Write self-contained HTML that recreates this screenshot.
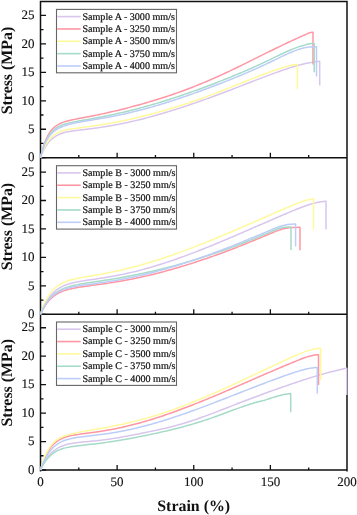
<!DOCTYPE html><html><head><meta charset="utf-8"><style>html,body{margin:0;padding:0;background:#fff;}svg{display:block;will-change:transform;}text{font-family:"Liberation Serif",serif;fill:#111;text-rendering:geometricPrecision;}.t{font-size:13px;stroke:#111;stroke-width:0.15px;}.lg{font-size:10.1px;stroke:#111;stroke-width:0.2px;}.ax{font-size:15.9px;font-weight:bold;}</style></head><body>
<svg width="357" height="515" viewBox="0 0 357 515">
<rect width="357" height="515" fill="#fff"/>
<path d="M40.5 1.5V470.7 M347 1.5V470.7 M40.5 1.5H347 M40.5 157.7H347 M40.5 314.3H347 M40.5 470H347" stroke="#111" stroke-width="1.5" fill="none" stroke-linecap="square"/>
<text class="t" x="34.6" y="161.4" text-anchor="end">0</text>
<text class="t" x="34.6" y="132.95" text-anchor="end">5</text>
<text class="t" x="34.6" y="104.5" text-anchor="end">10</text>
<text class="t" x="34.6" y="76.05" text-anchor="end">15</text>
<text class="t" x="34.6" y="47.6" text-anchor="end">20</text>
<text class="t" x="34.6" y="19.15" text-anchor="end">25</text>
<path d="M40.5 157.7H46 M40.5 143.47H43.5 M40.5 129.25H46 M40.5 115.02H43.5 M40.5 100.8H46 M40.5 86.57H43.5 M40.5 72.35H46 M40.5 58.12H43.5 M40.5 43.9H46 M40.5 29.67H43.5 M40.5 15.45H46 M78.81 157.7V155.1 M117.12 157.7V152.7 M155.44 157.7V155.1 M193.75 157.7V152.7 M232.06 157.7V155.1 M270.38 157.7V152.7 M308.69 157.7V155.1" stroke="#111" stroke-width="1.3" fill="none"/>
<rect x="56.5" y="9.4" width="120" height="63.4" fill="#fff" stroke="#666" stroke-width="1.1"/>
<path d="M57.2 16.6H80.7" stroke="#d8c6ee" stroke-width="1.6"/>
<text class="lg" x="82.4" y="19.5">Sample A - 3000 mm/s</text>
<path d="M57.2 28.95H80.7" stroke="#ff96a3" stroke-width="1.6"/>
<text class="lg" x="82.4" y="31.85">Sample A - 3250 mm/s</text>
<path d="M57.2 41.3H80.7" stroke="#fff99c" stroke-width="1.6"/>
<text class="lg" x="82.4" y="44.2">Sample A - 3500 mm/s</text>
<path d="M57.2 53.65H80.7" stroke="#a6dbc9" stroke-width="1.6"/>
<text class="lg" x="82.4" y="56.55">Sample A - 3750 mm/s</text>
<path d="M57.2 66H80.7" stroke="#bccdf7" stroke-width="1.6"/>
<text class="lg" x="82.4" y="68.9">Sample A - 4000 mm/s</text>
<path d="M40.50 157.70 L40.75 157.02 L41.00 156.35 L41.25 155.70 L41.50 155.06 L41.75 154.44 L42.00 153.84 L42.25 153.25 L42.50 152.68 L42.75 152.12 L43.00 151.58 L43.25 151.05 L43.50 150.53 L43.75 150.03 L44.00 149.53 L44.25 149.05 L44.50 148.59 L44.75 148.13 L45.00 147.69 L45.25 147.26 L45.50 146.83 L45.75 146.42 L46.00 146.02 L46.25 145.63 L46.50 145.25 L47.25 144.16 L48.00 143.15 L48.75 142.21 L49.50 141.34 L50.25 140.54 L51.00 139.79 L51.75 139.10 L52.50 138.46 L53.25 137.86 L54.00 137.31 L54.75 136.79 L55.50 136.31 L56.25 135.87 L57.00 135.46 L57.75 135.07 L58.50 134.72 L59.25 134.38 L60.00 134.07 L60.75 133.79 L61.50 133.52 L62.25 133.26 L63.00 133.03 L63.75 132.81 L64.50 132.60 L66.50 132.10 L68.50 131.68 L70.50 131.31 L72.50 130.98 L74.50 130.68 L76.50 130.41 L78.50 130.16 L80.50 129.91 L82.50 129.67 L84.50 129.43 L86.50 129.20 L88.50 128.96 L90.50 128.71 L92.50 128.46 L94.50 128.20 L96.50 127.93 L98.50 127.65 L100.50 127.37 L102.50 127.07 L104.50 126.76 L106.50 126.44 L108.50 126.11 L110.50 125.77 L112.50 125.42 L114.50 125.05 L116.50 124.68 L118.50 124.30 L120.50 123.90 L122.50 123.50 L124.50 123.08 L126.50 122.66 L128.50 122.22 L130.50 121.78 L132.50 121.33 L134.50 120.86 L136.50 120.39 L138.50 119.91 L140.50 119.41 L142.50 118.91 L144.50 118.40 L146.50 117.88 L148.50 117.36 L150.50 116.82 L152.50 116.27 L154.50 115.72 L156.50 115.16 L158.50 114.59 L160.50 114.01 L162.50 113.43 L164.50 112.84 L166.50 112.23 L168.50 111.63 L170.50 111.01 L172.50 110.39 L174.50 109.76 L176.50 109.13 L178.50 108.49 L180.50 107.84 L182.50 107.18 L184.50 106.52 L186.50 105.86 L188.50 105.18 L190.50 104.51 L192.50 103.82 L194.50 103.13 L196.50 102.44 L198.50 101.74 L200.50 101.03 L202.50 100.32 L204.50 99.61 L206.50 98.89 L208.50 98.17 L210.50 97.44 L212.50 96.71 L214.50 95.97 L216.50 95.23 L218.50 94.49 L220.50 93.74 L222.50 92.99 L224.50 92.24 L226.50 91.48 L228.50 90.72 L230.50 89.96 L232.50 89.20 L234.50 88.43 L236.50 87.66 L238.50 86.89 L240.50 86.11 L242.50 85.34 L244.50 84.56 L246.50 83.78 L248.50 83.00 L250.50 82.23 L252.50 81.45 L254.50 80.67 L256.50 79.90 L258.50 79.13 L260.50 78.36 L262.50 77.60 L264.50 76.84 L266.50 76.08 L268.50 75.33 L270.50 74.59 L272.50 73.85 L274.50 73.12 L276.50 72.39 L278.50 71.68 L280.50 70.97 L282.50 70.28 L284.50 69.60 L286.50 68.93 L288.50 68.27 L290.50 67.63 L292.50 67.00 L294.50 66.40 L296.50 65.82 L298.50 65.26 L300.50 64.73 L302.50 64.24 L304.50 63.77 L306.50 63.35 L307.70 63.11 L308.70 62.93 L309.70 62.75 L310.70 62.57 L311.70 62.39 L312.70 62.22 L313.70 62.06 L314.70 61.91 L315.70 61.78 L316.70 61.65 L317.70 61.54 L318.70 61.44 L319.70 61.35 L319.70 85.40" stroke="#d8c6ee" stroke-width="1.5" fill="none" stroke-linejoin="round"/>
<path d="M40.50 157.70 L40.75 156.57 L41.00 155.47 L41.25 154.40 L41.50 153.37 L41.75 152.37 L42.00 151.40 L42.25 150.47 L42.50 149.56 L42.75 148.68 L43.00 147.83 L43.25 147.00 L43.50 146.20 L43.75 145.43 L44.00 144.68 L44.25 143.95 L44.50 143.24 L44.75 142.56 L45.00 141.89 L45.25 141.25 L45.50 140.63 L45.75 140.02 L46.00 139.43 L46.25 138.86 L46.50 138.31 L47.25 136.75 L48.00 135.33 L48.75 134.03 L49.50 132.84 L50.25 131.76 L51.00 130.77 L51.75 129.86 L52.50 129.03 L53.25 128.26 L54.00 127.56 L54.75 126.92 L55.50 126.33 L56.25 125.78 L57.00 125.28 L57.75 124.82 L58.50 124.38 L59.25 123.99 L60.00 123.61 L60.75 123.27 L61.50 122.95 L62.25 122.65 L63.00 122.36 L63.75 122.10 L64.50 121.84 L66.50 121.24 L68.50 120.70 L70.50 120.22 L72.50 119.78 L74.50 119.37 L76.50 118.97 L78.50 118.59 L80.50 118.21 L82.50 117.84 L84.50 117.46 L86.50 117.09 L88.50 116.71 L90.50 116.32 L92.50 115.93 L94.50 115.53 L96.50 115.12 L98.50 114.71 L100.50 114.29 L102.50 113.86 L104.50 113.42 L106.50 112.98 L108.50 112.53 L110.50 112.07 L112.50 111.60 L114.50 111.13 L116.50 110.65 L118.50 110.16 L120.50 109.67 L122.50 109.17 L124.50 108.67 L126.50 108.16 L128.50 107.64 L130.50 107.12 L132.50 106.59 L134.50 106.06 L136.50 105.52 L138.50 104.97 L140.50 104.41 L142.50 103.85 L144.50 103.28 L146.50 102.70 L148.50 102.12 L150.50 101.53 L152.50 100.93 L154.50 100.32 L156.50 99.70 L158.50 99.08 L160.50 98.45 L162.50 97.81 L164.50 97.17 L166.50 96.51 L168.50 95.85 L170.50 95.18 L172.50 94.49 L174.50 93.81 L176.50 93.11 L178.50 92.40 L180.50 91.68 L182.50 90.96 L184.50 90.22 L186.50 89.48 L188.50 88.73 L190.50 87.96 L192.50 87.19 L194.50 86.41 L196.50 85.62 L198.50 84.82 L200.50 84.00 L202.50 83.18 L204.50 82.35 L206.50 81.51 L208.50 80.65 L210.50 79.79 L212.50 78.91 L214.50 78.03 L216.50 77.13 L218.50 76.23 L220.50 75.32 L222.50 74.40 L224.50 73.47 L226.50 72.53 L228.50 71.59 L230.50 70.64 L232.50 69.68 L234.50 68.72 L236.50 67.75 L238.50 66.78 L240.50 65.81 L242.50 64.83 L244.50 63.85 L246.50 62.86 L248.50 61.87 L250.50 60.88 L252.50 59.89 L254.50 58.90 L256.50 57.90 L258.50 56.91 L260.50 55.92 L262.50 54.92 L264.50 53.93 L266.50 52.94 L268.50 51.95 L270.50 50.97 L272.50 49.98 L274.50 49.00 L276.50 48.03 L278.50 47.06 L280.50 46.09 L282.50 45.13 L284.50 44.17 L286.50 43.22 L288.50 42.28 L290.50 41.35 L292.50 40.42 L294.50 39.50 L296.50 38.58 L298.50 37.68 L300.50 36.78 L301.00 36.56 L302.00 36.12 L303.00 35.68 L304.00 35.24 L305.00 34.81 L306.00 34.32 L307.00 33.83 L308.00 33.37 L309.00 32.95 L310.00 32.61 L311.00 32.39 L312.00 32.28 L313.00 32.23 L313.00 64.50" stroke="#ff96a3" stroke-width="1.5" fill="none" stroke-linejoin="round"/>
<path d="M40.50 157.70 L40.75 156.90 L41.00 156.12 L41.25 155.36 L41.50 154.63 L41.75 153.91 L42.00 153.21 L42.25 152.54 L42.50 151.88 L42.75 151.24 L43.00 150.62 L43.25 150.01 L43.50 149.43 L43.75 148.86 L44.00 148.30 L44.25 147.76 L44.50 147.24 L44.75 146.72 L45.00 146.23 L45.25 145.74 L45.50 145.27 L45.75 144.82 L46.00 144.37 L46.25 143.94 L46.50 143.52 L47.25 142.32 L48.00 141.22 L48.75 140.21 L49.50 139.28 L50.25 138.42 L51.00 137.63 L51.75 136.90 L52.50 136.23 L53.25 135.61 L54.00 135.04 L54.75 134.51 L55.50 134.02 L56.25 133.58 L57.00 133.16 L57.75 132.78 L58.50 132.42 L59.25 132.09 L60.00 131.78 L60.75 131.50 L61.50 131.23 L62.25 130.98 L63.00 130.75 L63.75 130.54 L64.50 130.33 L66.50 129.85 L68.50 129.44 L70.50 129.07 L72.50 128.75 L74.50 128.45 L76.50 128.17 L78.50 127.90 L80.50 127.64 L82.50 127.39 L84.50 127.13 L86.50 126.88 L88.50 126.62 L90.50 126.35 L92.50 126.07 L94.50 125.79 L96.50 125.50 L98.50 125.20 L100.50 124.89 L102.50 124.57 L104.50 124.24 L106.50 123.91 L108.50 123.56 L110.50 123.20 L112.50 122.84 L114.50 122.46 L116.50 122.08 L118.50 121.69 L120.50 121.29 L122.50 120.88 L124.50 120.46 L126.50 120.04 L128.50 119.61 L130.50 119.17 L132.50 118.72 L134.50 118.26 L136.50 117.80 L138.50 117.32 L140.50 116.84 L142.50 116.35 L144.50 115.85 L146.50 115.35 L148.50 114.84 L150.50 114.32 L152.50 113.79 L154.50 113.25 L156.50 112.70 L158.50 112.15 L160.50 111.59 L162.50 111.02 L164.50 110.45 L166.50 109.86 L168.50 109.27 L170.50 108.67 L172.50 108.07 L174.50 107.45 L176.50 106.83 L178.50 106.20 L180.50 105.56 L182.50 104.92 L184.50 104.27 L186.50 103.61 L188.50 102.94 L190.50 102.26 L192.50 101.58 L194.50 100.89 L196.50 100.20 L198.50 99.49 L200.50 98.78 L202.50 98.06 L204.50 97.34 L206.50 96.60 L208.50 95.86 L210.50 95.12 L212.50 94.36 L214.50 93.60 L216.50 92.83 L218.50 92.06 L220.50 91.28 L222.50 90.50 L224.50 89.72 L226.50 88.93 L228.50 88.13 L230.50 87.34 L232.50 86.54 L234.50 85.75 L236.50 84.95 L238.50 84.15 L240.50 83.35 L242.50 82.56 L244.50 81.76 L246.50 80.97 L248.50 80.18 L250.50 79.39 L252.50 78.61 L254.50 77.83 L256.50 77.05 L258.50 76.28 L260.50 75.52 L262.50 74.76 L264.50 74.01 L266.50 73.26 L268.50 72.53 L270.50 71.80 L272.50 71.08 L274.50 70.37 L276.50 69.67 L278.50 68.99 L280.50 68.32 L282.50 67.67 L284.50 67.04 L285.40 66.77 L286.40 66.48 L287.40 66.21 L288.40 65.95 L289.40 65.70 L290.40 65.48 L291.40 65.28 L292.40 65.09 L293.40 64.92 L294.40 64.77 L295.40 64.66 L296.40 64.57 L297.40 64.50 L297.40 89.00" stroke="#fff99c" stroke-width="1.5" fill="none" stroke-linejoin="round"/>
<path d="M40.50 157.70 L40.75 156.64 L41.00 155.62 L41.25 154.64 L41.50 153.68 L41.75 152.75 L42.00 151.86 L42.25 150.99 L42.50 150.15 L42.75 149.34 L43.00 148.55 L43.25 147.79 L43.50 147.05 L43.75 146.34 L44.00 145.65 L44.25 144.98 L44.50 144.34 L44.75 143.71 L45.00 143.09 L45.25 142.50 L45.50 141.92 L45.75 141.36 L46.00 140.82 L46.25 140.29 L46.50 139.78 L47.25 138.34 L48.00 137.02 L48.75 135.82 L49.50 134.72 L50.25 133.71 L51.00 132.79 L51.75 131.94 L52.50 131.16 L53.25 130.45 L54.00 129.79 L54.75 129.18 L55.50 128.62 L56.25 128.11 L57.00 127.63 L57.75 127.18 L58.50 126.77 L59.25 126.38 L60.00 126.02 L60.75 125.69 L61.50 125.37 L62.25 125.07 L63.00 124.79 L63.75 124.53 L64.50 124.28 L66.50 123.67 L68.50 123.14 L70.50 122.65 L72.50 122.21 L74.50 121.80 L76.50 121.41 L78.50 121.04 L80.50 120.68 L82.50 120.32 L84.50 119.97 L86.50 119.62 L88.50 119.27 L90.50 118.91 L92.50 118.55 L94.50 118.19 L96.50 117.82 L98.50 117.45 L100.50 117.07 L102.50 116.69 L104.50 116.29 L106.50 115.89 L108.50 115.49 L110.50 115.07 L112.50 114.65 L114.50 114.22 L116.50 113.78 L118.50 113.34 L120.50 112.88 L122.50 112.42 L124.50 111.95 L126.50 111.47 L128.50 110.98 L130.50 110.49 L132.50 109.99 L134.50 109.48 L136.50 108.96 L138.50 108.44 L140.50 107.90 L142.50 107.36 L144.50 106.82 L146.50 106.26 L148.50 105.70 L150.50 105.13 L152.50 104.55 L154.50 103.97 L156.50 103.38 L158.50 102.78 L160.50 102.17 L162.50 101.56 L164.50 100.94 L166.50 100.32 L168.50 99.69 L170.50 99.05 L172.50 98.40 L174.50 97.75 L176.50 97.09 L178.50 96.43 L180.50 95.76 L182.50 95.08 L184.50 94.40 L186.50 93.71 L188.50 93.02 L190.50 92.31 L192.50 91.61 L194.50 90.90 L196.50 90.18 L198.50 89.45 L200.50 88.72 L202.50 87.99 L204.50 87.25 L206.50 86.50 L208.50 85.75 L210.50 85.00 L212.50 84.24 L214.50 83.47 L216.50 82.70 L218.50 81.92 L220.50 81.14 L222.50 80.35 L224.50 79.55 L226.50 78.75 L228.50 77.94 L230.50 77.13 L232.50 76.31 L234.50 75.48 L236.50 74.65 L238.50 73.81 L240.50 72.96 L242.50 72.11 L244.50 71.25 L246.50 70.38 L248.50 69.51 L250.50 68.62 L252.50 67.73 L254.50 66.83 L256.50 65.93 L258.50 65.01 L260.50 64.09 L262.50 63.16 L264.50 62.22 L266.50 61.27 L268.50 60.32 L270.50 59.35 L272.50 58.38 L274.50 57.41 L276.50 56.43 L278.50 55.46 L280.50 54.50 L282.50 53.54 L284.50 52.61 L286.50 51.70 L288.50 50.81 L290.50 49.95 L292.50 49.12 L294.50 48.33 L296.50 47.58 L298.50 46.88 L300.50 46.24 L302.20 45.74 L303.20 45.47 L304.20 45.22 L305.20 44.95 L306.20 44.58 L307.20 44.26 L308.20 43.99 L309.20 43.78 L310.20 43.63 L311.20 43.54 L312.20 43.48 L313.20 43.45 L314.20 43.43 L314.20 72.30" stroke="#a6dbc9" stroke-width="1.5" fill="none" stroke-linejoin="round"/>
<path d="M40.50 157.70 L40.75 156.71 L41.00 155.75 L41.25 154.81 L41.50 153.90 L41.75 153.01 L42.00 152.15 L42.25 151.31 L42.50 150.49 L42.75 149.70 L43.00 148.94 L43.25 148.19 L43.50 147.48 L43.75 146.78 L44.00 146.11 L44.25 145.45 L44.50 144.83 L44.75 144.23 L45.00 143.65 L45.25 143.09 L45.50 142.55 L45.75 142.03 L46.00 141.53 L46.25 141.04 L46.50 140.56 L47.25 139.23 L48.00 138.03 L48.75 136.93 L49.50 135.92 L50.25 135.00 L51.00 134.15 L51.75 133.37 L52.50 132.65 L53.25 131.98 L54.00 131.36 L54.75 130.78 L55.50 130.24 L56.25 129.74 L57.00 129.27 L57.75 128.84 L58.50 128.42 L59.25 128.04 L60.00 127.67 L60.75 127.33 L61.50 127.00 L62.25 126.69 L63.00 126.39 L63.75 126.11 L64.50 125.84 L66.50 125.18 L68.50 124.59 L70.50 124.06 L72.50 123.58 L74.50 123.13 L76.50 122.72 L78.50 122.34 L80.50 121.97 L82.50 121.61 L84.50 121.27 L86.50 120.93 L88.50 120.59 L90.50 120.26 L92.50 119.93 L94.50 119.60 L96.50 119.27 L98.50 118.93 L100.50 118.59 L102.50 118.24 L104.50 117.89 L106.50 117.53 L108.50 117.17 L110.50 116.80 L112.50 116.42 L114.50 116.03 L116.50 115.63 L118.50 115.22 L120.50 114.81 L122.50 114.38 L124.50 113.94 L126.50 113.49 L128.50 113.03 L130.50 112.56 L132.50 112.08 L134.50 111.59 L136.50 111.10 L138.50 110.59 L140.50 110.07 L142.50 109.55 L144.50 109.01 L146.50 108.47 L148.50 107.91 L150.50 107.35 L152.50 106.78 L154.50 106.20 L156.50 105.62 L158.50 105.02 L160.50 104.42 L162.50 103.81 L164.50 103.19 L166.50 102.57 L168.50 101.94 L170.50 101.30 L172.50 100.65 L174.50 100.00 L176.50 99.34 L178.50 98.68 L180.50 98.01 L182.50 97.33 L184.50 96.64 L186.50 95.95 L188.50 95.26 L190.50 94.56 L192.50 93.85 L194.50 93.14 L196.50 92.42 L198.50 91.70 L200.50 90.97 L202.50 90.24 L204.50 89.51 L206.50 88.77 L208.50 88.02 L210.50 87.27 L212.50 86.52 L214.50 85.76 L216.50 85.00 L218.50 84.24 L220.50 83.47 L222.50 82.69 L224.50 81.91 L226.50 81.12 L228.50 80.33 L230.50 79.53 L232.50 78.73 L234.50 77.92 L236.50 77.10 L238.50 76.28 L240.50 75.45 L242.50 74.61 L244.50 73.77 L246.50 72.91 L248.50 72.05 L250.50 71.18 L252.50 70.31 L254.50 69.42 L256.50 68.53 L258.50 67.63 L260.50 66.71 L262.50 65.79 L264.50 64.86 L266.50 63.92 L268.50 62.97 L270.50 62.01 L272.50 61.04 L274.50 60.07 L276.50 59.09 L278.50 58.12 L280.50 57.15 L282.50 56.19 L284.50 55.24 L286.50 54.32 L288.50 53.41 L290.50 52.53 L292.50 51.69 L294.50 50.88 L296.50 50.12 L298.50 49.41 L300.50 48.79 L302.50 48.26 L304.50 47.83 L305.50 47.61 L306.50 47.39 L307.50 47.21 L308.50 47.08 L309.50 46.99 L310.50 46.93 L311.50 46.88 L312.50 46.85 L313.50 46.83 L314.50 46.82 L315.50 46.81 L316.50 46.81 L316.50 76.40" stroke="#bccdf7" stroke-width="1.5" fill="none" stroke-linejoin="round"/>
<text class="ax" transform="translate(12.2 70.5) rotate(-90)" text-anchor="middle">Stress (MPa)</text>
<text class="t" x="34.6" y="318" text-anchor="end">0</text>
<text class="t" x="34.6" y="289.55" text-anchor="end">5</text>
<text class="t" x="34.6" y="261.1" text-anchor="end">10</text>
<text class="t" x="34.6" y="232.65" text-anchor="end">15</text>
<text class="t" x="34.6" y="204.2" text-anchor="end">20</text>
<text class="t" x="34.6" y="175.75" text-anchor="end">25</text>
<path d="M40.5 314.3H46 M40.5 300.07H43.5 M40.5 285.85H46 M40.5 271.62H43.5 M40.5 257.4H46 M40.5 243.18H43.5 M40.5 228.95H46 M40.5 214.73H43.5 M40.5 200.5H46 M40.5 186.28H43.5 M40.5 172.05H46 M78.81 314.3V311.7 M117.12 314.3V309.3 M155.44 314.3V311.7 M193.75 314.3V309.3 M232.06 314.3V311.7 M270.38 314.3V309.3 M308.69 314.3V311.7" stroke="#111" stroke-width="1.3" fill="none"/>
<rect x="56.5" y="165.7" width="120" height="63.4" fill="#fff" stroke="#666" stroke-width="1.1"/>
<path d="M57.2 172.9H80.7" stroke="#d8c6ee" stroke-width="1.6"/>
<text class="lg" x="82.4" y="175.8">Sample B - 3000 mm/s</text>
<path d="M57.2 185.25H80.7" stroke="#ff96a3" stroke-width="1.6"/>
<text class="lg" x="82.4" y="188.15">Sample B - 3250 mm/s</text>
<path d="M57.2 197.6H80.7" stroke="#fff99c" stroke-width="1.6"/>
<text class="lg" x="82.4" y="200.5">Sample B - 3500 mm/s</text>
<path d="M57.2 209.95H80.7" stroke="#a6dbc9" stroke-width="1.6"/>
<text class="lg" x="82.4" y="212.85">Sample B - 3750 mm/s</text>
<path d="M57.2 222.3H80.7" stroke="#bccdf7" stroke-width="1.6"/>
<text class="lg" x="82.4" y="225.2">Sample B - 4000 mm/s</text>
<path d="M40.50 314.30 L40.75 313.64 L41.00 312.99 L41.25 312.36 L41.50 311.74 L41.75 311.13 L42.00 310.53 L42.25 309.95 L42.50 309.37 L42.75 308.81 L43.00 308.26 L43.25 307.72 L43.50 307.18 L43.75 306.66 L44.00 306.15 L44.25 305.65 L44.50 305.16 L44.75 304.68 L45.00 304.21 L45.25 303.75 L45.50 303.29 L45.75 302.85 L46.00 302.41 L46.25 301.98 L46.50 301.57 L47.25 300.36 L48.00 299.22 L48.75 298.14 L49.50 297.13 L50.25 296.18 L51.00 295.28 L51.75 294.43 L52.50 293.63 L53.25 292.88 L54.00 292.17 L54.75 291.50 L55.50 290.87 L56.25 290.27 L57.00 289.71 L57.75 289.17 L58.50 288.67 L59.25 288.20 L60.00 287.75 L60.75 287.33 L61.50 286.93 L62.25 286.55 L63.00 286.19 L63.75 285.85 L64.50 285.53 L66.50 284.75 L68.50 284.08 L70.50 283.48 L72.50 282.95 L74.50 282.48 L76.50 282.06 L78.50 281.67 L80.50 281.32 L82.50 280.98 L84.50 280.67 L86.50 280.36 L88.50 280.07 L90.50 279.78 L92.50 279.49 L94.50 279.20 L96.50 278.91 L98.50 278.61 L100.50 278.31 L102.50 278.00 L104.50 277.69 L106.50 277.36 L108.50 277.03 L110.50 276.68 L112.50 276.33 L114.50 275.96 L116.50 275.59 L118.50 275.20 L120.50 274.80 L122.50 274.38 L124.50 273.96 L126.50 273.52 L128.50 273.07 L130.50 272.61 L132.50 272.14 L134.50 271.65 L136.50 271.16 L138.50 270.65 L140.50 270.13 L142.50 269.60 L144.50 269.06 L146.50 268.51 L148.50 267.94 L150.50 267.37 L152.50 266.78 L154.50 266.18 L156.50 265.58 L158.50 264.96 L160.50 264.34 L162.50 263.70 L164.50 263.05 L166.50 262.40 L168.50 261.74 L170.50 261.06 L172.50 260.38 L174.50 259.69 L176.50 258.99 L178.50 258.29 L180.50 257.57 L182.50 256.85 L184.50 256.12 L186.50 255.38 L188.50 254.63 L190.50 253.88 L192.50 253.12 L194.50 252.36 L196.50 251.59 L198.50 250.81 L200.50 250.02 L202.50 249.23 L204.50 248.44 L206.50 247.64 L208.50 246.83 L210.50 246.02 L212.50 245.20 L214.50 244.38 L216.50 243.56 L218.50 242.73 L220.50 241.90 L222.50 241.06 L224.50 240.22 L226.50 239.37 L228.50 238.53 L230.50 237.68 L232.50 236.82 L234.50 235.97 L236.50 235.11 L238.50 234.25 L240.50 233.38 L242.50 232.52 L244.50 231.65 L246.50 230.79 L248.50 229.92 L250.50 229.05 L252.50 228.18 L254.50 227.31 L256.50 226.43 L258.50 225.56 L260.50 224.69 L262.50 223.82 L264.50 222.95 L266.50 222.08 L268.50 221.21 L270.50 220.34 L272.50 219.47 L274.50 218.60 L276.50 217.74 L278.50 216.88 L280.50 216.02 L282.50 215.16 L284.50 214.30 L286.50 213.45 L288.50 212.61 L290.50 211.77 L292.50 210.93 L294.50 210.11 L296.50 209.29 L298.50 208.49 L300.50 207.70 L302.50 206.94 L304.50 206.20 L306.50 205.50 L308.50 204.83 L310.50 204.20 L312.50 203.62 L314.00 203.22 L315.00 202.98 L316.00 202.75 L317.00 202.53 L318.00 202.33 L319.00 202.15 L320.00 201.98 L321.00 201.82 L322.00 201.68 L323.00 201.56 L324.00 201.44 L325.00 201.34 L326.00 201.25 L326.00 229.60" stroke="#d8c6ee" stroke-width="1.5" fill="none" stroke-linejoin="round"/>
<path d="M40.50 314.30 L40.75 313.74 L41.00 313.20 L41.25 312.67 L41.50 312.14 L41.75 311.63 L42.00 311.13 L42.25 310.64 L42.50 310.16 L42.75 309.69 L43.00 309.22 L43.25 308.77 L43.50 308.33 L43.75 307.89 L44.00 307.47 L44.25 307.05 L44.50 306.65 L44.75 306.25 L45.00 305.85 L45.25 305.47 L45.50 305.09 L45.75 304.73 L46.00 304.36 L46.25 304.01 L46.50 303.66 L47.25 302.67 L48.00 301.73 L48.75 300.85 L49.50 300.02 L50.25 299.24 L51.00 298.50 L51.75 297.81 L52.50 297.16 L53.25 296.55 L54.00 295.97 L54.75 295.43 L55.50 294.92 L56.25 294.43 L57.00 293.98 L57.75 293.55 L58.50 293.14 L59.25 292.76 L60.00 292.39 L60.75 292.05 L61.50 291.73 L62.25 291.42 L63.00 291.13 L63.75 290.85 L64.50 290.59 L66.50 289.95 L68.50 289.39 L70.50 288.90 L72.50 288.45 L74.50 288.05 L76.50 287.69 L78.50 287.35 L80.50 287.03 L82.50 286.73 L84.50 286.44 L86.50 286.16 L88.50 285.89 L90.50 285.63 L92.50 285.36 L94.50 285.09 L96.50 284.82 L98.50 284.55 L100.50 284.28 L102.50 284.00 L104.50 283.71 L106.50 283.42 L108.50 283.12 L110.50 282.82 L112.50 282.50 L114.50 282.18 L116.50 281.85 L118.50 281.51 L120.50 281.17 L122.50 280.81 L124.50 280.45 L126.50 280.08 L128.50 279.70 L130.50 279.31 L132.50 278.91 L134.50 278.50 L136.50 278.09 L138.50 277.66 L140.50 277.23 L142.50 276.79 L144.50 276.34 L146.50 275.88 L148.50 275.41 L150.50 274.94 L152.50 274.45 L154.50 273.96 L156.50 273.46 L158.50 272.95 L160.50 272.43 L162.50 271.91 L164.50 271.37 L166.50 270.83 L168.50 270.28 L170.50 269.73 L172.50 269.16 L174.50 268.59 L176.50 268.01 L178.50 267.42 L180.50 266.83 L182.50 266.23 L184.50 265.62 L186.50 265.00 L188.50 264.38 L190.50 263.74 L192.50 263.11 L194.50 262.46 L196.50 261.81 L198.50 261.15 L200.50 260.48 L202.50 259.81 L204.50 259.13 L206.50 258.45 L208.50 257.76 L210.50 257.06 L212.50 256.35 L214.50 255.64 L216.50 254.92 L218.50 254.20 L220.50 253.47 L222.50 252.74 L224.50 252.00 L226.50 251.25 L228.50 250.50 L230.50 249.74 L232.50 248.97 L234.50 248.20 L236.50 247.43 L238.50 246.65 L240.50 245.86 L242.50 245.07 L244.50 244.27 L246.50 243.47 L248.50 242.67 L250.50 241.86 L252.50 241.04 L254.50 240.22 L256.50 239.39 L258.50 238.56 L260.50 237.73 L262.50 236.89 L264.50 236.05 L266.50 235.21 L268.50 234.37 L270.50 233.54 L272.50 232.71 L274.50 231.90 L276.50 231.12 L278.50 230.37 L280.50 229.69 L282.50 229.08 L284.50 228.57 L286.50 228.17 L288.00 227.94 L289.00 227.82 L290.00 227.71 L291.00 227.63 L292.00 227.56 L293.00 227.50 L294.00 227.46 L295.00 227.43 L296.00 227.40 L297.00 227.38 L298.00 227.36 L299.00 227.35 L300.00 227.34 L300.00 250.30" stroke="#ff96a3" stroke-width="1.5" fill="none" stroke-linejoin="round"/>
<path d="M40.50 314.30 L40.75 313.51 L41.00 312.73 L41.25 311.97 L41.50 311.23 L41.75 310.51 L42.00 309.80 L42.25 309.11 L42.50 308.43 L42.75 307.76 L43.00 307.11 L43.25 306.48 L43.50 305.86 L43.75 305.25 L44.00 304.66 L44.25 304.08 L44.50 303.51 L44.75 302.95 L45.00 302.41 L45.25 301.88 L45.50 301.36 L45.75 300.85 L46.00 300.35 L46.25 299.86 L46.50 299.39 L47.25 298.02 L48.00 296.74 L48.75 295.54 L49.50 294.42 L50.25 293.37 L51.00 292.38 L51.75 291.46 L52.50 290.60 L53.25 289.78 L54.00 289.02 L54.75 288.31 L55.50 287.64 L56.25 287.01 L57.00 286.42 L57.75 285.87 L58.50 285.35 L59.25 284.86 L60.00 284.39 L60.75 283.96 L61.50 283.55 L62.25 283.16 L63.00 282.80 L63.75 282.45 L64.50 282.12 L66.50 281.33 L68.50 280.64 L70.50 280.03 L72.50 279.49 L74.50 279.00 L76.50 278.55 L78.50 278.14 L80.50 277.75 L82.50 277.38 L84.50 277.03 L86.50 276.68 L88.50 276.34 L90.50 276.00 L92.50 275.66 L94.50 275.32 L96.50 274.98 L98.50 274.63 L100.50 274.27 L102.50 273.91 L104.50 273.53 L106.50 273.15 L108.50 272.76 L110.50 272.36 L112.50 271.95 L114.50 271.53 L116.50 271.10 L118.50 270.66 L120.50 270.21 L122.50 269.75 L124.50 269.27 L126.50 268.79 L128.50 268.30 L130.50 267.79 L132.50 267.28 L134.50 266.75 L136.50 266.22 L138.50 265.67 L140.50 265.12 L142.50 264.55 L144.50 263.98 L146.50 263.39 L148.50 262.80 L150.50 262.19 L152.50 261.58 L154.50 260.96 L156.50 260.33 L158.50 259.69 L160.50 259.04 L162.50 258.39 L164.50 257.72 L166.50 257.05 L168.50 256.37 L170.50 255.68 L172.50 254.99 L174.50 254.28 L176.50 253.57 L178.50 252.85 L180.50 252.13 L182.50 251.40 L184.50 250.66 L186.50 249.91 L188.50 249.16 L190.50 248.41 L192.50 247.64 L194.50 246.87 L196.50 246.10 L198.50 245.32 L200.50 244.53 L202.50 243.74 L204.50 242.94 L206.50 242.14 L208.50 241.33 L210.50 240.52 L212.50 239.71 L214.50 238.89 L216.50 238.06 L218.50 237.24 L220.50 236.40 L222.50 235.57 L224.50 234.73 L226.50 233.89 L228.50 233.04 L230.50 232.19 L232.50 231.34 L234.50 230.48 L236.50 229.63 L238.50 228.77 L240.50 227.90 L242.50 227.04 L244.50 226.17 L246.50 225.31 L248.50 224.44 L250.50 223.57 L252.50 222.69 L254.50 221.82 L256.50 220.95 L258.50 220.07 L260.50 219.19 L262.50 218.32 L264.50 217.44 L266.50 216.56 L268.50 215.69 L270.50 214.81 L272.50 213.93 L274.50 213.06 L276.50 212.18 L278.50 211.31 L280.50 210.44 L282.50 209.57 L284.50 208.70 L286.50 207.84 L288.50 206.98 L290.50 206.13 L292.50 205.29 L294.50 204.47 L296.50 203.66 L298.50 202.88 L300.50 202.14 L301.50 201.79 L302.50 201.44 L303.50 201.12 L304.50 200.81 L305.50 200.51 L306.50 200.23 L307.50 199.97 L308.50 199.73 L309.50 199.51 L310.50 199.31 L311.50 199.12 L312.50 198.96 L313.50 198.81 L313.50 229.60" stroke="#fff99c" stroke-width="1.5" fill="none" stroke-linejoin="round"/>
<path d="M40.50 314.30 L40.75 313.69 L41.00 313.10 L41.25 312.52 L41.50 311.95 L41.75 311.39 L42.00 310.84 L42.25 310.31 L42.50 309.78 L42.75 309.27 L43.00 308.76 L43.25 308.27 L43.50 307.79 L43.75 307.31 L44.00 306.85 L44.25 306.40 L44.50 305.95 L44.75 305.51 L45.00 305.09 L45.25 304.67 L45.50 304.26 L45.75 303.86 L46.00 303.46 L46.25 303.08 L46.50 302.70 L47.25 301.61 L48.00 300.58 L48.75 299.62 L49.50 298.71 L50.25 297.86 L51.00 297.05 L51.75 296.29 L52.50 295.58 L53.25 294.90 L54.00 294.26 L54.75 293.66 L55.50 293.10 L56.25 292.56 L57.00 292.06 L57.75 291.58 L58.50 291.12 L59.25 290.70 L60.00 290.29 L60.75 289.91 L61.50 289.54 L62.25 289.19 L63.00 288.86 L63.75 288.55 L64.50 288.25 L66.50 287.52 L68.50 286.88 L70.50 286.30 L72.50 285.79 L74.50 285.32 L76.50 284.88 L78.50 284.48 L80.50 284.11 L82.50 283.75 L84.50 283.42 L86.50 283.09 L88.50 282.77 L90.50 282.46 L92.50 282.16 L94.50 281.86 L96.50 281.55 L98.50 281.25 L100.50 280.95 L102.50 280.64 L104.50 280.34 L106.50 280.02 L108.50 279.71 L110.50 279.39 L112.50 279.06 L114.50 278.73 L116.50 278.39 L118.50 278.05 L120.50 277.70 L122.50 277.34 L124.50 276.98 L126.50 276.61 L128.50 276.23 L130.50 275.85 L132.50 275.46 L134.50 275.07 L136.50 274.66 L138.50 274.25 L140.50 273.84 L142.50 273.41 L144.50 272.98 L146.50 272.54 L148.50 272.10 L150.50 271.65 L152.50 271.19 L154.50 270.72 L156.50 270.25 L158.50 269.77 L160.50 269.28 L162.50 268.79 L164.50 268.28 L166.50 267.78 L168.50 267.26 L170.50 266.74 L172.50 266.21 L174.50 265.67 L176.50 265.13 L178.50 264.58 L180.50 264.02 L182.50 263.46 L184.50 262.88 L186.50 262.31 L188.50 261.72 L190.50 261.13 L192.50 260.53 L194.50 259.92 L196.50 259.31 L198.50 258.69 L200.50 258.06 L202.50 257.43 L204.50 256.79 L206.50 256.14 L208.50 255.48 L210.50 254.82 L212.50 254.16 L214.50 253.48 L216.50 252.80 L218.50 252.11 L220.50 251.41 L222.50 250.71 L224.50 250.00 L226.50 249.29 L228.50 248.57 L230.50 247.84 L232.50 247.10 L234.50 246.36 L236.50 245.61 L238.50 244.85 L240.50 244.09 L242.50 243.32 L244.50 242.54 L246.50 241.76 L248.50 240.97 L250.50 240.17 L252.50 239.37 L254.50 238.56 L256.50 237.74 L258.50 236.92 L260.50 236.09 L262.50 235.26 L264.50 234.42 L266.50 233.57 L268.50 232.72 L270.50 231.87 L272.50 231.03 L274.50 230.20 L276.50 229.41 L278.50 228.68 L279.00 228.52 L280.00 228.21 L281.00 227.94 L282.00 227.71 L283.00 227.51 L284.00 227.35 L285.00 227.23 L286.00 227.14 L287.00 227.07 L288.00 227.02 L289.00 226.99 L290.00 226.96 L291.00 226.94 L291.00 250.00" stroke="#a6dbc9" stroke-width="1.5" fill="none" stroke-linejoin="round"/>
<path d="M40.50 314.30 L40.75 313.70 L41.00 313.10 L41.25 312.52 L41.50 311.96 L41.75 311.40 L42.00 310.86 L42.25 310.33 L42.50 309.80 L42.75 309.29 L43.00 308.80 L43.25 308.31 L43.50 307.83 L43.75 307.36 L44.00 306.90 L44.25 306.45 L44.50 306.01 L44.75 305.58 L45.00 305.16 L45.25 304.75 L45.50 304.35 L45.75 303.95 L46.00 303.57 L46.25 303.19 L46.50 302.82 L47.25 301.75 L48.00 300.75 L48.75 299.81 L49.50 298.93 L50.25 298.11 L51.00 297.33 L51.75 296.60 L52.50 295.92 L53.25 295.27 L54.00 294.67 L54.75 294.10 L55.50 293.57 L56.25 293.06 L57.00 292.59 L57.75 292.14 L58.50 291.73 L59.25 291.33 L60.00 290.96 L60.75 290.61 L61.50 290.27 L62.25 289.96 L63.00 289.66 L63.75 289.38 L64.50 289.12 L66.50 288.47 L68.50 287.91 L70.50 287.42 L72.50 286.97 L74.50 286.58 L76.50 286.22 L78.50 285.88 L80.50 285.57 L82.50 285.27 L84.50 284.99 L86.50 284.71 L88.50 284.44 L90.50 284.17 L92.50 283.90 L94.50 283.64 L96.50 283.36 L98.50 283.09 L100.50 282.81 L102.50 282.52 L104.50 282.22 L106.50 281.92 L108.50 281.61 L110.50 281.29 L112.50 280.97 L114.50 280.63 L116.50 280.29 L118.50 279.93 L120.50 279.57 L122.50 279.20 L124.50 278.82 L126.50 278.42 L128.50 278.02 L130.50 277.61 L132.50 277.19 L134.50 276.76 L136.50 276.32 L138.50 275.88 L140.50 275.42 L142.50 274.95 L144.50 274.47 L146.50 273.99 L148.50 273.50 L150.50 272.99 L152.50 272.48 L154.50 271.96 L156.50 271.43 L158.50 270.89 L160.50 270.35 L162.50 269.79 L164.50 269.23 L166.50 268.66 L168.50 268.08 L170.50 267.49 L172.50 266.89 L174.50 266.29 L176.50 265.68 L178.50 265.06 L180.50 264.44 L182.50 263.80 L184.50 263.16 L186.50 262.51 L188.50 261.86 L190.50 261.20 L192.50 260.53 L194.50 259.85 L196.50 259.17 L198.50 258.48 L200.50 257.78 L202.50 257.08 L204.50 256.37 L206.50 255.66 L208.50 254.94 L210.50 254.21 L212.50 253.48 L214.50 252.74 L216.50 251.99 L218.50 251.24 L220.50 250.49 L222.50 249.73 L224.50 248.96 L226.50 248.19 L228.50 247.41 L230.50 246.63 L232.50 245.84 L234.50 245.05 L236.50 244.26 L238.50 243.46 L240.50 242.65 L242.50 241.84 L244.50 241.03 L246.50 240.21 L248.50 239.38 L250.50 238.56 L252.50 237.73 L254.50 236.89 L256.50 236.06 L258.50 235.21 L260.50 234.37 L262.50 233.52 L264.50 232.68 L266.50 231.83 L268.50 230.98 L270.50 230.14 L272.50 229.31 L274.50 228.50 L276.50 227.71 L278.50 226.97 L280.50 226.28 L282.50 225.68 L283.60 225.39 L284.60 225.15 L285.60 224.94 L286.60 224.76 L287.60 224.60 L288.60 224.47 L289.60 224.36 L290.60 224.27 L291.60 224.19 L292.60 224.13 L293.60 224.08 L294.60 224.04 L295.60 224.01 L295.60 246.50" stroke="#bccdf7" stroke-width="1.5" fill="none" stroke-linejoin="round"/>
<text class="ax" transform="translate(12.2 226.6) rotate(-90)" text-anchor="middle">Stress (MPa)</text>
<text class="t" x="34.6" y="473.7" text-anchor="end">0</text>
<text class="t" x="34.6" y="445.25" text-anchor="end">5</text>
<text class="t" x="34.6" y="416.8" text-anchor="end">10</text>
<text class="t" x="34.6" y="388.35" text-anchor="end">15</text>
<text class="t" x="34.6" y="359.9" text-anchor="end">20</text>
<text class="t" x="34.6" y="331.45" text-anchor="end">25</text>
<path d="M40.5 470H46 M40.5 455.77H43.5 M40.5 441.55H46 M40.5 427.32H43.5 M40.5 413.1H46 M40.5 398.88H43.5 M40.5 384.65H46 M40.5 370.43H43.5 M40.5 356.2H46 M40.5 341.98H43.5 M40.5 327.75H46 M78.81 470V467.4 M117.12 470V465 M155.44 470V467.4 M193.75 470V465 M232.06 470V467.4 M270.38 470V465 M308.69 470V467.4" stroke="#111" stroke-width="1.3" fill="none"/>
<rect x="56.5" y="322" width="120" height="63.4" fill="#fff" stroke="#666" stroke-width="1.1"/>
<path d="M57.2 329.2H80.7" stroke="#d8c6ee" stroke-width="1.6"/>
<text class="lg" x="82.4" y="332.1">Sample C - 3000 mm/s</text>
<path d="M57.2 341.55H80.7" stroke="#ff96a3" stroke-width="1.6"/>
<text class="lg" x="82.4" y="344.45">Sample C - 3250 mm/s</text>
<path d="M57.2 353.9H80.7" stroke="#fff99c" stroke-width="1.6"/>
<text class="lg" x="82.4" y="356.8">Sample C - 3500 mm/s</text>
<path d="M57.2 366.25H80.7" stroke="#a6dbc9" stroke-width="1.6"/>
<text class="lg" x="82.4" y="369.15">Sample C - 3750 mm/s</text>
<path d="M57.2 378.6H80.7" stroke="#bccdf7" stroke-width="1.6"/>
<text class="lg" x="82.4" y="381.5">Sample C - 4000 mm/s</text>
<path d="M40.50 470.00 L40.75 469.42 L41.00 468.85 L41.25 468.30 L41.50 467.75 L41.75 467.21 L42.00 466.69 L42.25 466.17 L42.50 465.67 L42.75 465.17 L43.00 464.68 L43.25 464.21 L43.50 463.74 L43.75 463.28 L44.00 462.83 L44.25 462.38 L44.50 461.95 L44.75 461.53 L45.00 461.11 L45.25 460.71 L45.50 460.31 L45.75 459.92 L46.00 459.53 L46.25 459.16 L46.50 458.79 L47.25 457.73 L48.00 456.74 L48.75 455.80 L49.50 454.92 L50.25 454.09 L51.00 453.31 L51.75 452.57 L52.50 451.88 L53.25 451.24 L54.00 450.63 L54.75 450.06 L55.50 449.52 L56.25 449.02 L57.00 448.55 L57.75 448.10 L58.50 447.69 L59.25 447.30 L60.00 446.93 L60.75 446.59 L61.50 446.27 L62.25 445.96 L63.00 445.68 L63.75 445.42 L64.50 445.17 L66.50 444.58 L68.50 444.08 L70.50 443.65 L72.50 443.29 L74.50 442.98 L76.50 442.71 L78.50 442.47 L80.50 442.26 L82.50 442.06 L84.50 441.87 L86.50 441.69 L88.50 441.50 L90.50 441.32 L92.50 441.12 L94.50 440.92 L96.50 440.71 L98.50 440.49 L100.50 440.26 L102.50 440.01 L104.50 439.76 L106.50 439.49 L108.50 439.21 L110.50 438.92 L112.50 438.62 L114.50 438.30 L116.50 437.98 L118.50 437.64 L120.50 437.30 L122.50 436.94 L124.50 436.58 L126.50 436.21 L128.50 435.84 L130.50 435.45 L132.50 435.07 L134.50 434.68 L136.50 434.28 L138.50 433.89 L140.50 433.49 L142.50 433.09 L144.50 432.69 L146.50 432.28 L148.50 431.88 L150.50 431.46 L152.50 431.05 L154.50 430.63 L156.50 430.20 L158.50 429.76 L160.50 429.32 L162.50 428.86 L164.50 428.40 L166.50 427.93 L168.50 427.44 L170.50 426.95 L172.50 426.44 L174.50 425.92 L176.50 425.38 L178.50 424.83 L180.50 424.26 L182.50 423.68 L184.50 423.08 L186.50 422.46 L188.50 421.84 L190.50 421.19 L192.50 420.54 L194.50 419.87 L196.50 419.18 L198.50 418.49 L200.50 417.79 L202.50 417.07 L204.50 416.35 L206.50 415.62 L208.50 414.88 L210.50 414.13 L212.50 413.38 L214.50 412.62 L216.50 411.86 L218.50 411.09 L220.50 410.31 L222.50 409.54 L224.50 408.76 L226.50 407.98 L228.50 407.19 L230.50 406.41 L232.50 405.63 L234.50 404.85 L236.50 404.07 L238.50 403.29 L240.50 402.51 L242.50 401.74 L244.50 400.97 L246.50 400.21 L248.50 399.45 L250.50 398.69 L252.50 397.93 L254.50 397.18 L256.50 396.44 L258.50 395.69 L260.50 394.96 L262.50 394.22 L264.50 393.49 L266.50 392.76 L268.50 392.04 L270.50 391.31 L272.50 390.60 L274.50 389.88 L276.50 389.17 L278.50 388.47 L280.50 387.77 L282.50 387.07 L284.50 386.37 L286.50 385.68 L288.50 384.99 L290.50 384.31 L292.50 383.63 L294.50 382.95 L296.50 382.28 L298.50 381.61 L300.50 380.95 L302.50 380.30 L304.50 379.65 L306.50 379.01 L308.50 378.37 L310.50 377.74 L312.50 377.12 L314.50 376.51 L316.50 375.91 L318.50 375.32 L320.50 374.73 L322.50 374.16 L324.50 373.60 L326.50 373.04 L328.50 372.50 L330.50 371.97 L332.50 371.46 L334.50 370.95 L334.70 370.90 L335.70 370.65 L336.70 370.41 L337.70 370.17 L338.70 369.93 L339.70 369.70 L340.70 369.47 L341.70 369.24 L342.70 369.02 L343.70 368.80 L344.70 368.58 L345.70 368.37 L346.70 368.16 L346.70 395.00" stroke="#d8c6ee" stroke-width="1.5" fill="none" stroke-linejoin="round"/>
<path d="M40.50 470.00 L40.75 469.14 L41.00 468.30 L41.25 467.48 L41.50 466.68 L41.75 465.90 L42.00 465.14 L42.25 464.40 L42.50 463.67 L42.75 462.97 L43.00 462.28 L43.25 461.60 L43.50 460.94 L43.75 460.30 L44.00 459.67 L44.25 459.06 L44.50 458.46 L44.75 457.88 L45.00 457.31 L45.25 456.75 L45.50 456.21 L45.75 455.68 L46.00 455.16 L46.25 454.66 L46.50 454.17 L47.25 452.76 L48.00 451.45 L48.75 450.23 L49.50 449.10 L50.25 448.05 L51.00 447.07 L51.75 446.16 L52.50 445.31 L53.25 444.52 L54.00 443.79 L54.75 443.11 L55.50 442.47 L56.25 441.88 L57.00 441.33 L57.75 440.82 L58.50 440.34 L59.25 439.90 L60.00 439.48 L60.75 439.09 L61.50 438.73 L62.25 438.39 L63.00 438.08 L63.75 437.78 L64.50 437.50 L66.50 436.84 L68.50 436.28 L70.50 435.80 L72.50 435.38 L74.50 435.01 L76.50 434.67 L78.50 434.37 L80.50 434.08 L82.50 433.81 L84.50 433.54 L86.50 433.28 L88.50 433.02 L90.50 432.75 L92.50 432.49 L94.50 432.21 L96.50 431.93 L98.50 431.64 L100.50 431.34 L102.50 431.02 L104.50 430.70 L106.50 430.36 L108.50 430.01 L110.50 429.65 L112.50 429.28 L114.50 428.89 L116.50 428.49 L118.50 428.08 L120.50 427.65 L122.50 427.21 L124.50 426.76 L126.50 426.29 L128.50 425.82 L130.50 425.33 L132.50 424.82 L134.50 424.31 L136.50 423.78 L138.50 423.24 L140.50 422.69 L142.50 422.13 L144.50 421.56 L146.50 420.97 L148.50 420.38 L150.50 419.77 L152.50 419.16 L154.50 418.53 L156.50 417.89 L158.50 417.25 L160.50 416.59 L162.50 415.93 L164.50 415.25 L166.50 414.57 L168.50 413.88 L170.50 413.18 L172.50 412.47 L174.50 411.75 L176.50 411.02 L178.50 410.29 L180.50 409.55 L182.50 408.80 L184.50 408.05 L186.50 407.28 L188.50 406.51 L190.50 405.74 L192.50 404.96 L194.50 404.17 L196.50 403.38 L198.50 402.58 L200.50 401.77 L202.50 400.96 L204.50 400.15 L206.50 399.33 L208.50 398.50 L210.50 397.67 L212.50 396.84 L214.50 396.00 L216.50 395.16 L218.50 394.32 L220.50 393.47 L222.50 392.62 L224.50 391.77 L226.50 390.91 L228.50 390.05 L230.50 389.19 L232.50 388.33 L234.50 387.46 L236.50 386.60 L238.50 385.73 L240.50 384.86 L242.50 383.99 L244.50 383.12 L246.50 382.25 L248.50 381.38 L250.50 380.50 L252.50 379.63 L254.50 378.76 L256.50 377.89 L258.50 377.02 L260.50 376.15 L262.50 375.28 L264.50 374.41 L266.50 373.55 L268.50 372.68 L270.50 371.82 L272.50 370.96 L274.50 370.11 L276.50 369.25 L278.50 368.40 L280.50 367.55 L282.50 366.70 L284.50 365.86 L286.50 365.02 L288.50 364.19 L290.50 363.36 L292.50 362.54 L294.50 361.72 L296.50 360.91 L298.50 360.11 L300.50 359.32 L302.50 358.56 L304.50 357.82 L306.50 357.13 L307.50 356.80 L308.50 356.49 L309.50 356.20 L310.50 355.94 L311.50 355.69 L312.50 355.47 L313.50 355.28 L314.50 355.11 L315.50 354.96 L316.50 354.84 L317.50 354.73 L318.50 354.65 L318.50 385.00" stroke="#ff96a3" stroke-width="1.5" fill="none" stroke-linejoin="round"/>
<path d="M40.50 470.00 L40.75 469.06 L41.00 468.15 L41.25 467.26 L41.50 466.38 L41.75 465.53 L42.00 464.70 L42.25 463.89 L42.50 463.10 L42.75 462.33 L43.00 461.58 L43.25 460.84 L43.50 460.13 L43.75 459.43 L44.00 458.75 L44.25 458.09 L44.50 457.45 L44.75 456.82 L45.00 456.22 L45.25 455.63 L45.50 455.05 L45.75 454.49 L46.00 453.95 L46.25 453.41 L46.50 452.90 L47.25 451.42 L48.00 450.06 L48.75 448.80 L49.50 447.64 L50.25 446.57 L51.00 445.58 L51.75 444.66 L52.50 443.81 L53.25 443.02 L54.00 442.29 L54.75 441.61 L55.50 440.98 L56.25 440.39 L57.00 439.84 L57.75 439.33 L58.50 438.86 L59.25 438.41 L60.00 437.99 L60.75 437.60 L61.50 437.24 L62.25 436.89 L63.00 436.57 L63.75 436.26 L64.50 435.97 L66.50 435.27 L68.50 434.66 L70.50 434.12 L72.50 433.63 L74.50 433.18 L76.50 432.76 L78.50 432.37 L80.50 431.99 L82.50 431.62 L84.50 431.26 L86.50 430.91 L88.50 430.56 L90.50 430.22 L92.50 429.87 L94.50 429.53 L96.50 429.19 L98.50 428.84 L100.50 428.49 L102.50 428.14 L104.50 427.77 L106.50 427.41 L108.50 427.03 L110.50 426.65 L112.50 426.26 L114.50 425.86 L116.50 425.46 L118.50 425.04 L120.50 424.62 L122.50 424.18 L124.50 423.74 L126.50 423.29 L128.50 422.82 L130.50 422.35 L132.50 421.87 L134.50 421.38 L136.50 420.87 L138.50 420.36 L140.50 419.83 L142.50 419.29 L144.50 418.75 L146.50 418.19 L148.50 417.62 L150.50 417.04 L152.50 416.45 L154.50 415.84 L156.50 415.23 L158.50 414.60 L160.50 413.96 L162.50 413.31 L164.50 412.64 L166.50 411.97 L168.50 411.28 L170.50 410.59 L172.50 409.88 L174.50 409.16 L176.50 408.43 L178.50 407.69 L180.50 406.94 L182.50 406.19 L184.50 405.42 L186.50 404.64 L188.50 403.86 L190.50 403.06 L192.50 402.26 L194.50 401.45 L196.50 400.63 L198.50 399.81 L200.50 398.97 L202.50 398.13 L204.50 397.28 L206.50 396.43 L208.50 395.57 L210.50 394.70 L212.50 393.83 L214.50 392.95 L216.50 392.07 L218.50 391.18 L220.50 390.29 L222.50 389.39 L224.50 388.49 L226.50 387.58 L228.50 386.67 L230.50 385.75 L232.50 384.83 L234.50 383.91 L236.50 382.99 L238.50 382.06 L240.50 381.13 L242.50 380.20 L244.50 379.26 L246.50 378.33 L248.50 377.39 L250.50 376.45 L252.50 375.51 L254.50 374.57 L256.50 373.63 L258.50 372.68 L260.50 371.74 L262.50 370.80 L264.50 369.86 L266.50 368.92 L268.50 367.97 L270.50 367.04 L272.50 366.10 L274.50 365.16 L276.50 364.23 L278.50 363.30 L280.50 362.37 L282.50 361.44 L284.50 360.52 L286.50 359.60 L288.50 358.69 L290.50 357.78 L292.50 356.88 L294.50 355.99 L296.50 355.12 L298.50 354.26 L300.50 353.43 L302.50 352.63 L304.50 351.87 L306.50 351.16 L308.50 350.51 L308.70 350.45 L309.70 350.16 L310.70 349.88 L311.70 349.62 L312.70 349.38 L313.70 349.16 L314.70 348.96 L315.70 348.79 L316.70 348.64 L317.70 348.51 L318.70 348.40 L319.70 348.30 L320.70 348.22 L320.70 380.00" stroke="#fff99c" stroke-width="1.5" fill="none" stroke-linejoin="round"/>
<path d="M40.50 470.00 L40.75 469.47 L41.00 468.94 L41.25 468.43 L41.50 467.93 L41.75 467.43 L42.00 466.95 L42.25 466.48 L42.50 466.01 L42.75 465.56 L43.00 465.11 L43.25 464.68 L43.50 464.25 L43.75 463.83 L44.00 463.42 L44.25 463.02 L44.50 462.63 L44.75 462.24 L45.00 461.87 L45.25 461.51 L45.50 461.15 L45.75 460.80 L46.00 460.46 L46.25 460.12 L46.50 459.79 L47.25 458.85 L48.00 457.97 L48.75 457.15 L49.50 456.38 L50.25 455.66 L51.00 454.98 L51.75 454.35 L52.50 453.76 L53.25 453.21 L54.00 452.69 L54.75 452.21 L55.50 451.76 L56.25 451.33 L57.00 450.94 L57.75 450.57 L58.50 450.22 L59.25 449.90 L60.00 449.59 L60.75 449.31 L61.50 449.04 L62.25 448.79 L63.00 448.55 L63.75 448.33 L64.50 448.13 L66.50 447.63 L68.50 447.20 L70.50 446.83 L72.50 446.50 L74.50 446.21 L76.50 445.94 L78.50 445.69 L80.50 445.45 L82.50 445.23 L84.50 445.01 L86.50 444.79 L88.50 444.57 L90.50 444.35 L92.50 444.13 L94.50 443.90 L96.50 443.66 L98.50 443.42 L100.50 443.17 L102.50 442.91 L104.50 442.64 L106.50 442.37 L108.50 442.08 L110.50 441.79 L112.50 441.49 L114.50 441.18 L116.50 440.86 L118.50 440.53 L120.50 440.20 L122.50 439.85 L124.50 439.50 L126.50 439.15 L128.50 438.78 L130.50 438.41 L132.50 438.04 L134.50 437.66 L136.50 437.27 L138.50 436.88 L140.50 436.49 L142.50 436.09 L144.50 435.69 L146.50 435.28 L148.50 434.87 L150.50 434.45 L152.50 434.03 L154.50 433.61 L156.50 433.18 L158.50 432.74 L160.50 432.29 L162.50 431.84 L164.50 431.39 L166.50 430.92 L168.50 430.45 L170.50 429.97 L172.50 429.48 L174.50 428.99 L176.50 428.48 L178.50 427.97 L180.50 427.45 L182.50 426.92 L184.50 426.38 L186.50 425.83 L188.50 425.27 L190.50 424.70 L192.50 424.11 L194.50 423.52 L196.50 422.92 L198.50 422.30 L200.50 421.68 L202.50 421.04 L204.50 420.39 L206.50 419.73 L208.50 419.05 L210.50 418.36 L212.50 417.66 L214.50 416.95 L216.50 416.23 L218.50 415.50 L220.50 414.76 L222.50 414.02 L224.50 413.28 L226.50 412.53 L228.50 411.79 L230.50 411.04 L232.50 410.30 L234.50 409.57 L236.50 408.84 L238.50 408.12 L240.50 407.40 L242.50 406.70 L244.50 406.02 L246.50 405.34 L248.50 404.68 L250.50 404.05 L252.50 403.43 L254.50 402.83 L256.50 402.25 L258.50 401.70 L260.50 401.17 L262.50 400.67 L264.50 400.20 L266.50 399.60 L268.50 398.95 L270.50 398.30 L272.50 397.66 L274.50 397.03 L276.50 396.42 L278.50 395.84 L278.70 395.78 L279.70 395.51 L280.70 395.25 L281.70 395.00 L282.70 394.77 L283.70 394.56 L284.70 394.36 L285.70 394.19 L286.70 394.04 L287.70 393.91 L288.70 393.79 L289.70 393.70 L290.70 393.62 L290.70 412.30" stroke="#a6dbc9" stroke-width="1.5" fill="none" stroke-linejoin="round"/>
<path d="M40.50 470.00 L40.75 469.28 L41.00 468.58 L41.25 467.90 L41.50 467.22 L41.75 466.56 L42.00 465.92 L42.25 465.29 L42.50 464.67 L42.75 464.07 L43.00 463.47 L43.25 462.90 L43.50 462.33 L43.75 461.77 L44.00 461.23 L44.25 460.70 L44.50 460.18 L44.75 459.67 L45.00 459.17 L45.25 458.68 L45.50 458.20 L45.75 457.73 L46.00 457.27 L46.25 456.83 L46.50 456.39 L47.25 455.13 L48.00 453.94 L48.75 452.83 L49.50 451.80 L50.25 450.82 L51.00 449.91 L51.75 449.05 L52.50 448.25 L53.25 447.50 L54.00 446.79 L54.75 446.13 L55.50 445.51 L56.25 444.93 L57.00 444.39 L57.75 443.88 L58.50 443.40 L59.25 442.95 L60.00 442.53 L60.75 442.13 L61.50 441.76 L62.25 441.42 L63.00 441.09 L63.75 440.78 L64.50 440.49 L66.50 439.80 L68.50 439.22 L70.50 438.71 L72.50 438.27 L74.50 437.89 L76.50 437.55 L78.50 437.25 L80.50 436.97 L82.50 436.71 L84.50 436.47 L86.50 436.23 L88.50 436.00 L90.50 435.77 L92.50 435.55 L94.50 435.31 L96.50 435.08 L98.50 434.83 L100.50 434.58 L102.50 434.32 L104.50 434.05 L106.50 433.77 L108.50 433.47 L110.50 433.17 L112.50 432.85 L114.50 432.52 L116.50 432.18 L118.50 431.82 L120.50 431.45 L122.50 431.07 L124.50 430.68 L126.50 430.27 L128.50 429.85 L130.50 429.42 L132.50 428.97 L134.50 428.52 L136.50 428.05 L138.50 427.56 L140.50 427.07 L142.50 426.57 L144.50 426.05 L146.50 425.52 L148.50 424.98 L150.50 424.43 L152.50 423.87 L154.50 423.30 L156.50 422.72 L158.50 422.13 L160.50 421.53 L162.50 420.92 L164.50 420.30 L166.50 419.67 L168.50 419.04 L170.50 418.39 L172.50 417.74 L174.50 417.08 L176.50 416.41 L178.50 415.74 L180.50 415.05 L182.50 414.36 L184.50 413.67 L186.50 412.96 L188.50 412.26 L190.50 411.54 L192.50 410.82 L194.50 410.09 L196.50 409.36 L198.50 408.63 L200.50 407.88 L202.50 407.14 L204.50 406.39 L206.50 405.64 L208.50 404.88 L210.50 404.12 L212.50 403.35 L214.50 402.59 L216.50 401.82 L218.50 401.04 L220.50 400.27 L222.50 399.49 L224.50 398.72 L226.50 397.94 L228.50 397.15 L230.50 396.37 L232.50 395.59 L234.50 394.81 L236.50 394.03 L238.50 393.24 L240.50 392.46 L242.50 391.68 L244.50 390.90 L246.50 390.12 L248.50 389.34 L250.50 388.56 L252.50 387.78 L254.50 387.01 L256.50 386.24 L258.50 385.47 L260.50 384.70 L262.50 383.94 L264.50 383.18 L266.50 382.42 L268.50 381.67 L270.50 380.92 L272.50 380.18 L274.50 379.44 L276.50 378.71 L278.50 377.98 L280.50 377.25 L282.50 376.53 L284.50 375.82 L286.50 375.12 L288.50 374.42 L290.50 373.73 L292.50 373.06 L294.50 372.39 L296.50 371.74 L298.50 371.12 L300.50 370.51 L302.50 369.94 L304.50 369.42 L305.30 369.22 L306.30 368.99 L307.30 368.77 L308.30 368.57 L309.30 368.38 L310.30 368.22 L311.30 368.07 L312.30 367.93 L313.30 367.82 L314.30 367.71 L315.30 367.62 L316.30 367.54 L317.30 367.48 L317.30 393.40" stroke="#bccdf7" stroke-width="1.5" fill="none" stroke-linejoin="round"/>
<text class="ax" transform="translate(12.2 382.8) rotate(-90)" text-anchor="middle">Stress (MPa)</text>
<text class="t" x="40.5" y="486.4" text-anchor="middle">0</text>
<text class="t" x="117.12" y="486.4" text-anchor="middle">50</text>
<text class="t" x="193.75" y="486.4" text-anchor="middle">100</text>
<text class="t" x="270.38" y="486.4" text-anchor="middle">150</text>
<text class="t" x="347" y="486.4" text-anchor="middle">200</text>
<text class="ax" x="193.7" y="511" text-anchor="middle">Strain (%)</text>
</svg></body></html>
